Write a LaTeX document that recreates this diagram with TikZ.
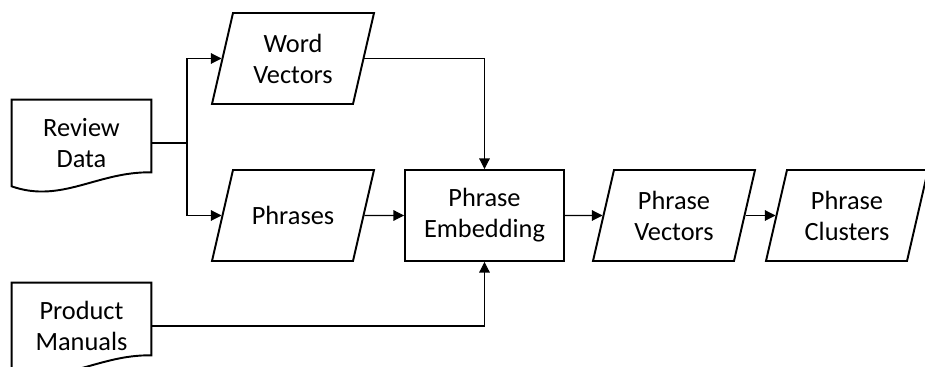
\documentclass[tikz,border=0pt]{standalone}
\usepackage{fontspec}
\setmainfont{Carlito}
\usetikzlibrary{arrows.meta,shapes.geometric,calc}
\tikzset{
    every picture/.style={
        font=\fontsize{15}{17.6}\selectfont,
        >={Triangle[length=6pt,width=6pt]}
    },
    % Node styles
    datanode/.style={trapezium,trapezium left angle=77,trapezium right angle=103,draw,line width=1.1pt,inner sep=0pt,
        execute at begin node={\begin{minipage}[c][1.82cm][c]{2.4cm}\centering},
        execute at end node={\end{minipage}}},
    procnode/.style={rectangle,draw,line width=1.1pt,minimum width=3.18cm,minimum height=1.82cm,align=center},
    docnode/.style={rectangle,minimum width=2.78cm,minimum height=1.72cm,align=center},
    docline/.style={line width=1.1pt},
    % Flow styles
    flow/.style={->,line width=0.6pt}
}

\begin{document}
\begin{tikzpicture}
    \useasboundingbox (0,0) rectangle (18.5,-7.34);

    % Sources
    \node[docnode] (review) at (1.63,-2.86) {Review\\Data};
    \node[docnode] (manuals) at (1.63,-6.52) {Product\\Manuals};
    \draw[docline] (review.south west) -- (review.north west) -- (review.north east) -- ($(review.south east)+(0,0.28)$) .. controls +(-1.08,0.02) and +(1.0,-0.35) .. (review.south west) -- cycle;
    \draw[docline] (manuals.south west) -- (manuals.north west) -- (manuals.north east) -- ($(manuals.south east)+(0,0.28)$) .. controls +(-1.08,0.02) and +(1.0,-0.35) .. (manuals.south west) -- cycle;

    % Data and process
    \node[datanode] (words) at (5.86,-1.17) {Word\\Vectors};
    \node[datanode] (phrases) at (5.86,-4.31) {Phrases};
    \node[procnode] (embed) at (9.69,-4.31) {Phrase\\Embedding};
    \node[datanode] (pvec) at (13.48,-4.31) {Phrase\\Vectors};
    \node[datanode] (pclus) at (16.94,-4.31) {Phrase\\Clusters};

    % Split point
    \coordinate (split) at (3.74,-2.86);

    % Connectors
    \draw[line width=0.6pt] (review.east) -- (split);
    \draw[flow] (split) |- (words.west);
    \draw[flow] (split) |- (phrases.west);
    \draw[flow] (words.east) -| (embed.north);
    \draw[flow] (phrases.east) -- (embed.west);
    \draw[flow] (manuals.east) -| (embed.south);
    \draw[flow] (embed.east) -- (pvec.west);
    \draw[flow] (pvec.east) -- (pclus.west);
\end{tikzpicture}
\end{document}
